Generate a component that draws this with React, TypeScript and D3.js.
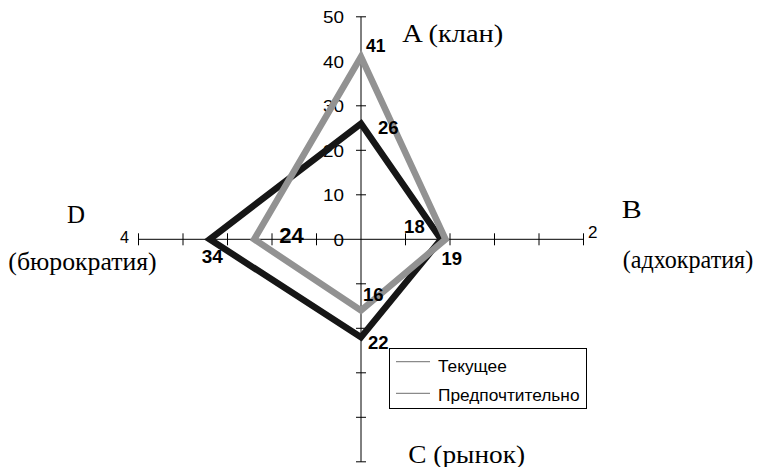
import React from "react";
import * as d3 from "d3";

const axes = ["A", "B", "C", "D"];
const seriesNames = ["Текущее", "Предпочтительно"];
const currentValues = [41, 19, 16, 24];
const preferredValues = [26, 18, 22, 34];
const tickValues = [0, 10, 20, 30, 40, 50];
const hAxisLeftLabel = "4";
const hAxisRightLabel = "2";

const W = 759, H = 467;
const cx = 361, cy = 239.3, R = 222.5;

export default function App() {
  const r = d3.scaleLinear().domain([0, 50]).range([0, R]);
  const dirs: Record<string, [number, number]> = { A: [0, -1], B: [1, 0], C: [0, 1], D: [-1, 0] };
  const pt = (axis: string, v: number): [number, number] => {
    const [dx, dy] = dirs[axis];
    return [cx + dx * r(v), cy + dy * r(v)];
  };
  const line = d3.line<[number, number]>().curve(d3.curveLinearClosed);
  const curPts = axes.map((a, i) => pt(a, currentValues[i]));
  const prefPts = axes.map((a, i) => pt(a, preferredValues[i]));

  const tickSteps = d3.range(1, 6).map((k) => r(k * 10));

  // label offsets (dx, dy, fontSize) relative to point, per axis
  const curOff: [number, number, number][] = [[5, -5, 17.5], [-4, 26, 18.5], [2, -10, 18.5], [25, 3.5, 22]];
  const prefOff: [number, number, number][] = [[17, 10, 18.5], [-37, -6, 18.5], [7, 12, 18.5], [-8, 24, 19]];

  const grey = "#929292";
  const black = "#161616";
  const sans = "Liberation Sans, Arial, sans-serif";
  const serif = "Liberation Serif, Times New Roman, serif";

  const catText = (s: string, x: number, y: number, w: number) => (
    <text x={x} y={y} fontFamily={serif} fontSize={25} textLength={w} lengthAdjust="spacingAndGlyphs">
      {s}
    </text>
  );

  return (
    <svg width={W} height={H} style={{ position: "absolute", left: 0, top: 0, background: "#fff" }}>
      {/* vertical axis */}
      <line x1={cx} x2={cx} y1={cy - R} y2={cy + R} stroke="#000" strokeWidth={1} />
      {tickSteps.map((d, i) => (
        <g key={"v" + i}>
          <line x1={cx - 5} x2={cx + 5} y1={cy - d} y2={cy - d} stroke="#000" />
          <line x1={cx - 5} x2={cx + 5} y1={cy + d} y2={cy + d} stroke="#000" />
        </g>
      ))}
      {/* horizontal axis */}
      <line x1={cx - R} x2={cx + R} y1={cy} y2={cy} stroke="#000" strokeWidth={1} />
      {tickSteps.map((d, i) => (
        <g key={"h" + i}>
          <line x1={cx - d} x2={cx - d} y1={cy - 6} y2={cy + 6} stroke="#000" />
          <line x1={cx + d} x2={cx + d} y1={cy - 6} y2={cy + 6} stroke="#000" />
        </g>
      ))}
      {tickValues.map((t) => {
        const s = String(t);
        const w = s.length * 10.5;
        return (
          <text key={"t" + t} x={cx - 17 - w} y={cy - r(t) + 6.5} fontFamily={sans} fontSize={16.8} textLength={w} lengthAdjust="spacingAndGlyphs">
            {s}
          </text>
        );
      })}
      <text x={120} y={cy + 3.5} fontFamily={sans} fontSize={16.5} textLength={9} lengthAdjust="spacingAndGlyphs">{hAxisLeftLabel}</text>
      <text x={588} y={cy - 1} fontFamily={sans} fontSize={16.8} textLength={9.5} lengthAdjust="spacingAndGlyphs">{hAxisRightLabel}</text>

      {/* series */}
      <path d={line(prefPts) || ""} fill="none" stroke={black} strokeWidth={6.5} strokeLinejoin="miter" />
      <path d={line(curPts) || ""} fill="none" stroke={grey} strokeWidth={6.5} strokeLinejoin="miter" />

      {curPts.map((p, i) => (
        <text key={"cl" + i} x={p[0] + curOff[i][0]} y={p[1] + curOff[i][1]} fontFamily={sans} fontWeight="bold" fontSize={curOff[i][2]} fill="#000">
          {currentValues[i]}
        </text>
      ))}
      {prefPts.map((p, i) => (
        <text key={"pl" + i} x={p[0] + prefOff[i][0]} y={p[1] + prefOff[i][1]} fontFamily={sans} fontWeight="bold" fontSize={prefOff[i][2]} fill="#000">
          {preferredValues[i]}
        </text>
      ))}

      {/* category labels */}
      {catText("A (клан)", 402.3, 41.7, 101)}
      {catText("B", 621.7, 218.3, 20)}
      {catText("(адхократия)", 622.7, 268.3, 130.5)}
      {catText("D", 67, 223.3, 18)}
      {catText("(бюрократия)", 8.3, 269.5, 148.4)}
      {catText("C (рынок)", 408.3, 462.5, 116.7)}

      {/* legend */}
      <rect x={389.5} y={348.5} width={197} height={60} fill="#fff" stroke="#000" strokeWidth={1} />
      {seriesNames.map((s, i) => (
        <g key={"lg" + i}>
          <line x1={396} x2={430} y1={361.7 + i * 31.6} y2={361.7 + i * 31.6} stroke="#8a8a8a" strokeWidth={1.2} />
          <text x={438} y={371.7 + i * 29} fontFamily={sans} fontSize={17.3}>{s}</text>
        </g>
      ))}
    </svg>
  );
}
